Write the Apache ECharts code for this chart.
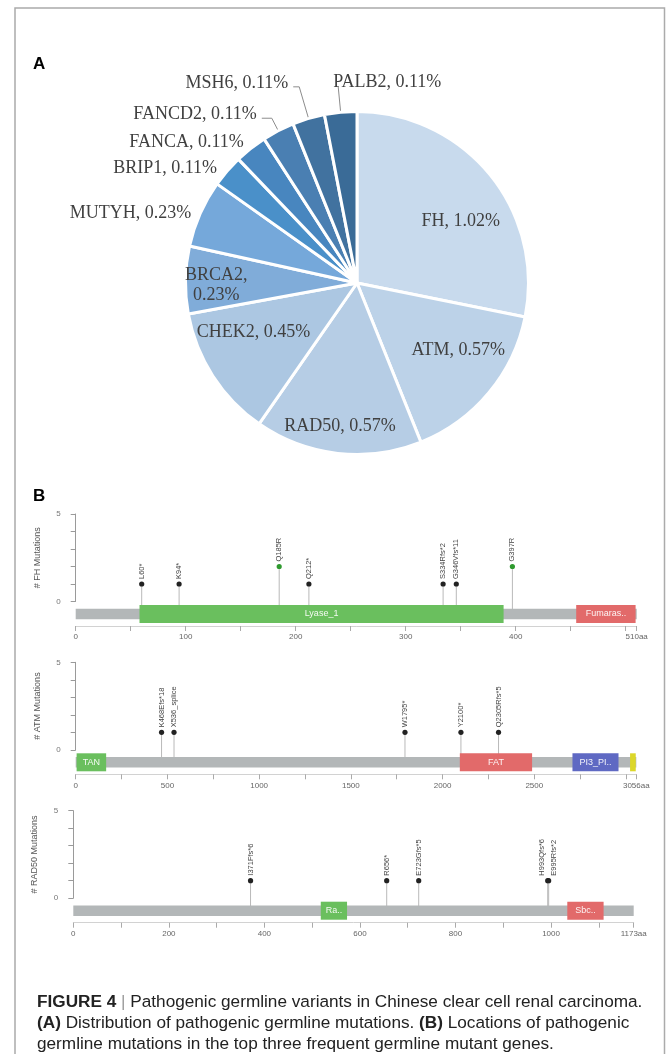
<!DOCTYPE html>
<html>
<head>
<meta charset="utf-8">
<script src="https://cdn.jsdelivr.net/npm/echarts@6/dist/echarts.min.js"></script>
<style>
  html, body { margin: 0; padding: 0; background: #fff; }
  #chart { width: 667px; height: 1054px; }
</style>
</head>
<body>
<div id="chart"></div>
<script>
// ---- Panel A: share of cohort carrying a pathogenic germline variant, by gene (%) ----
const pieGenes  = ['FH', 'ATM', 'RAD50', 'CHEK2', 'BRCA2', 'MUTYH', 'BRIP1', 'FANCA', 'FANCD2', 'MSH6', 'PALB2'];
const pieValues = [1.02, 0.57, 0.57, 0.45, 0.23, 0.23, 0.11, 0.11, 0.11, 0.11, 0.11];

// ---- Panel B: protein length, Pfam domains [start, end, label, kind], mutations [label, position, count, class] ----
const fhLength = 510;
const fhDomains = [[58, 389, 'Lyase_1', 'green'], [455, 509, 'Fumaras..', 'red']];
const fhMutations = [
  ['L60*', 60, 1, 'truncating'], ['K94*', 94, 1, 'truncating'], ['Q185R', 185, 2, 'missense'],
  ['Q212*', 212, 1, 'truncating'], ['S334Rfs*2', 334, 1, 'truncating'], ['G346Vfs*11', 346, 1, 'truncating'],
  ['G397R', 397, 2, 'missense']
];

const atmLength = 3056;
const atmDomains = [[5, 166, 'TAN', 'green'], [2094, 2488, 'FAT', 'red'], [2708, 2959, 'PI3_PI..', 'blue'], [3022, 3053, '', 'yellow']];
const atmMutations = [
  ['K468Efs*18', 468, 1, 'truncating'], ['X536_splice', 536, 1, 'truncating'], ['W1795*', 1795, 1, 'truncating'],
  ['Y2100*', 2100, 1, 'truncating'], ['Q2305Rfs*5', 2305, 1, 'truncating']
];

const rad50Length = 1173;
const rad50Domains = [[518, 573, 'Ra..', 'green'], [1034, 1110, 'Sbc..', 'red']];
const rad50Mutations = [
  ['I371Ffs*6', 371, 1, 'truncating'], ['R656*', 656, 1, 'truncating'], ['E723Gfs*5', 723, 1, 'truncating'],
  ['H993Qfs*6', 993, 1, 'truncating'], ['E995Rfs*2', 995, 1, 'truncating']
];

// ---- styling ----
const pieColors = ['#c8daed', '#bcd2e8', '#b6cde5', '#acc7e2', '#80acd9', '#75a8da',
                   '#4a90c9', '#4886bf', '#4a7fb2', '#41729f', '#3a6b97'];

// label placement per slice: inside labels get a nudge, small slices sit outside
const pieLabelPlacement = {
  FH:     { pos: 'inside', nudge: [35, -6] },
  ATM:    { pos: 'inside', nudge: [33, 10] },
  RAD50:  { pos: 'inside', nudge: [-7, 55] },
  CHEK2:  { pos: 'inside', nudge: [-29, 1] },
  BRCA2:  { pos: 'inside', nudge: [-52, 4], wrap: true },
  MUTYH:  { pos: 'outside', line: false, len: 0, len2: 4 },
  BRIP1:  { pos: 'outside', line: false, len: 4, len2: 2 },
  FANCA:  { pos: 'outside', line: false, len: 8, len2: 0, dist: 2 },
  FANCD2: { pos: 'outside', line: true, len: 14, len2: 10, nudge: [0, -4] },
  MSH6:   { pos: 'outside', line: true, len: 33, len2: 6, nudge: [0, -4] },
  PALB2:  { pos: 'outside', line: true, len: 26, len2: 0, nudge: [0, -4], align: 'left' }
};

const domainColors = { green: '#6abf5e', red: '#e26a6a', blue: '#5f69c3', yellow: '#dcd72a' };
const backboneColor = '#b3b7b8';
const mutationColors = { truncating: '#222222', missense: '#2f9a2f' };
const TRACK = { center: 12.5, backbone: 10.5, domain: 18 };   // px below the zero line
const SANS = '"Liberation Sans", Arial, sans-serif';
const SERIF = '"Liberation Serif", "Times New Roman", serif';

const panels = [
  { gene: 'FH',    length: fhLength,    tick: 50,  labelStep: 100, domains: fhDomains,    muts: fhMutations,    top: 514,   left: 75.7, right: 30.3 },
  { gene: 'ATM',   length: atmLength,   tick: 250, labelStep: 500, domains: atmDomains,   muts: atmMutations,   top: 662.3, left: 75.7, right: 30.7 },
  { gene: 'RAD50', length: rad50Length, tick: 100, labelStep: 200, domains: rad50Domains, muts: rad50Mutations, top: 810.7, left: 73.3, right: 33.3 }
];
const PANEL_HEIGHT = 87.5;

// spread rotated labels horizontally so neighbouring ones do not collide
function spreadLabels(xs, gap) {
  const order = xs.map((x, i) => i).sort((a, b) => xs[a] - xs[b]);
  let groups = order.map(i => ({ idx: [i], center: xs[i] }));
  let changed = true;
  while (changed) {
    changed = false;
    for (let g = 0; g < groups.length - 1; g++) {
      const a = groups[g], b = groups[g + 1];
      const aRight = a.center + (a.idx.length - 1) / 2 * gap;
      const bLeft = b.center - (b.idx.length - 1) / 2 * gap;
      if (bLeft - aRight < gap) {
        const idx = a.idx.concat(b.idx);
        const center = idx.reduce((s, i) => s + xs[i], 0) / idx.length;
        groups.splice(g, 2, { idx, center });
        changed = true;
        break;
      }
    }
  }
  const out = [];
  groups.forEach(g => g.idx.forEach((i, k) => { out[i] = g.center + (k - (g.idx.length - 1) / 2) * gap; }));
  return out;
}

function trackRenderer(panel) {
  const items = [[0, panel.length, '', 'backbone']].concat(panel.domains);
  return function (params, api) {
    const d = items[params.dataIndex];
    const p0 = api.coord([d[0], 0]);
    const p1 = api.coord([d[1], 0]);
    const cy = p0[1] + TRACK.center;
    const isBackbone = d[3] === 'backbone';
    const h = isBackbone ? TRACK.backbone : TRACK.domain;
    const children = [{
      type: 'rect',
      shape: { x: p0[0], y: cy - h / 2, width: p1[0] - p0[0], height: h },
      style: { fill: isBackbone ? backboneColor : domainColors[d[3]] }
    }];
    if (d[2]) {
      children.push({
        type: 'text',
        style: { text: d[2], x: (p0[0] + p1[0]) / 2, y: cy, align: 'center', verticalAlign: 'middle',
                 fill: 'rgba(255,255,255,0.92)', font: '9px ' + SANS }
      });
    }
    return { type: 'group', children };
  };
}

function lollipopRenderer(panel) {
  const muts = panel.muts;
  return function (params, api) {
    const xs = muts.map(m => api.coord([m[1], 0])[0]);
    const lx = spreadLabels(xs, 12);
    const m = muts[params.dataIndex];
    const head = api.coord([m[1], m[2]]);
    const base = api.coord([m[1], 0]);
    return {
      type: 'group',
      children: [
        { type: 'line', shape: { x1: head[0], y1: head[1], x2: base[0], y2: base[1] + TRACK.center },
          style: { stroke: '#b9b9b9', lineWidth: 1 } },
        { type: 'circle', shape: { cx: head[0], cy: head[1], r: 2.6 },
          style: { fill: mutationColors[m[3]] } },
        { type: 'text', x: lx[params.dataIndex], y: head[1] - 5, rotation: Math.PI / 2,
          style: { text: m[0], x: 0, y: 0, align: 'left', verticalAlign: 'middle', fill: '#444', font: '7.5px ' + SANS } }
      ]
    };
  };
}

const grids = [], xAxes = [], yAxes = [], series = [];

panels.forEach((p, i) => {
  grids.push({ left: p.left, right: p.right, top: p.top, height: PANEL_HEIGHT, containLabel: false, outerBoundsMode: 'none' });
  xAxes.push({
    gridIndex: i, type: 'value', min: 0, max: p.length, interval: p.tick,
    position: 'bottom', offset: 24.5,
    axisLine: { show: true, onZero: false, lineStyle: { color: '#d2d2d2', width: 1 } },
    axisTick: { show: true, length: 5, lineStyle: { color: '#aaaaaa' } },
    axisLabel: {
      color: '#666', fontSize: 8, fontFamily: SANS, margin: 7, showMinLabel: true, showMaxLabel: true, hideOverlap: false,
      formatter: v => {
        if (v === p.length) return v + 'aa';
        if (v % p.labelStep === 0 && p.length - v >= p.labelStep / 2) return String(v);
        return '';
      }
    },
    splitLine: { show: false }
  });
  yAxes.push({
    gridIndex: i, type: 'value', min: 0, max: 5, interval: 1, offset: 8,
    name: '# ' + p.gene + ' Mutations', nameLocation: 'middle', nameRotate: 90, nameGap: 26,
    nameTextStyle: { color: '#555', fontSize: 9, fontFamily: SANS },
    axisLine: { show: true, lineStyle: { color: '#9a9a9a', width: 1 } },
    axisTick: { show: true, length: 5, lineStyle: { color: '#9a9a9a' } },
    axisLabel: { color: '#777', fontSize: 8, fontFamily: SANS, margin: 7,
                 formatter: v => (v === 0 || v === 5) ? String(v) : '' },
    splitLine: { show: false }
  });
  series.push({
    type: 'custom', coordinateSystem: 'cartesian2d', xAxisIndex: i, yAxisIndex: i, z: 1, clip: false,
    silent: true, animation: false,
    renderItem: lollipopRenderer(p),
    encode: { x: 0, y: 1 },
    data: p.muts.map(m => [m[1], m[2]])
  });
  series.push({
    type: 'custom', coordinateSystem: 'cartesian2d', xAxisIndex: i, yAxisIndex: i, z: 2, clip: false,
    silent: true, animation: false,
    renderItem: trackRenderer(p),
    encode: { x: [0, 1], y: 2 },
    data: [[0, p.length, 0]].concat(p.domains.map(d => [d[0], d[1], 0]))
  });
});

series.push({
  type: 'pie',
  center: [357, 283],
  radius: 171.5,
  startAngle: 90,
  clockwise: true,
  avoidLabelOverlap: false,
  animation: false,
  silent: true,
  itemStyle: { borderColor: '#ffffff', borderWidth: 3 },
  label: { color: '#404040', fontSize: 18, fontFamily: SERIF },
  labelLine: { lineStyle: { color: '#8c8c8c', width: 1 } },
  emphasis: { disabled: true },
  labelLayout: params => {
    const p = pieLabelPlacement[pieGenes[params.dataIndex]];
    const out = {};
    if (p.nudge) { out.dx = p.nudge[0]; out.dy = p.nudge[1]; }
    if (p.align) out.align = p.align;
    if (p.line && params.labelLinePoints) out.labelLinePoints = params.labelLinePoints;
    return out;
  },
  data: pieGenes.map((g, i) => {
    const p = pieLabelPlacement[g];
    return {
      name: g,
      value: pieValues[i],
      itemStyle: { color: pieColors[i] },
      label: {
        position: p.pos,
        formatter: p.wrap ? '{b},\n{c}%' : '{b}, {c}%',
        lineHeight: 20,
        distanceToLabelLine: p.dist != null ? p.dist : 5
      },
      labelLine: { show: !!p.line, length: p.len || 0, length2: p.len2 || 0 }
    };
  })
});

const captionFont = 17.2;
const captionLine = 20.8;
const option = {
  backgroundColor: '#ffffff',
  animation: false,
  grid: grids,
  xAxis: xAxes,
  yAxis: yAxes,
  series: series,
  graphic: [
    { type: 'rect', silent: true, z: -10,
      shape: { x: 15, y: 8, width: 649.5, height: 1100 },
      style: { fill: 'none', stroke: '#ababab', lineWidth: 1.5 } },
    { type: 'text', left: 33, top: 56,
      style: { text: 'A', font: 'bold 17px ' + SANS, fill: '#000' } },
    { type: 'text', left: 33, top: 488,
      style: { text: 'B', font: 'bold 17px ' + SANS, fill: '#000' } },
    { type: 'text', left: 37, top: 992,
      style: {
        text: '{b|FIGURE 4} {bar||} Pathogenic germline variants in Chinese clear cell renal carcinoma.\n' +
              '{b|(A)} Distribution of pathogenic germline mutations. {b|(B)} Locations of pathogenic\n' +
              'germline mutations in the top three frequent germline mutant genes.',
        fontFamily: SANS, fontSize: captionFont, fill: '#222', lineHeight: captionLine,
        rich: {
          b: { fontFamily: SANS, fontSize: captionFont, fontWeight: 'bold', fill: '#222', lineHeight: captionLine },
          bar: { fontFamily: SANS, fontSize: captionFont, fill: '#9a9a9a', lineHeight: captionLine }
        }
      } }
  ]
};

const chart = echarts.init(document.getElementById('chart'), null, { renderer: 'canvas', width: 667, height: 1054 });
chart.setOption(option);
</script>
</body>
</html>
